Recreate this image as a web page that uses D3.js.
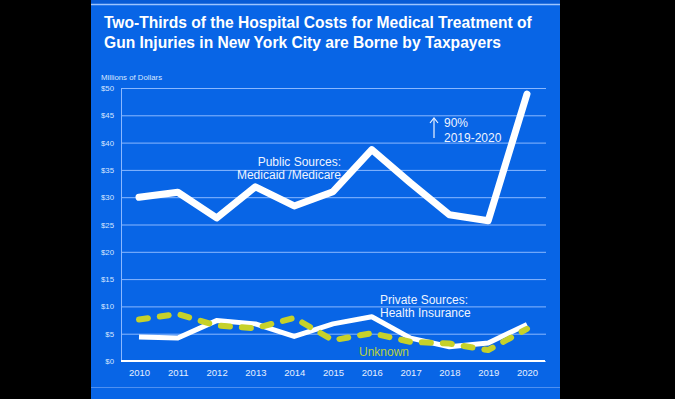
<!DOCTYPE html>
<html>
<head>
<meta charset="utf-8">
<script src="https://d3js.org/d3.v7.min.js"></script>
<style>
  body { margin:0; background:#000; }
  svg { display:block; font-family:"Liberation Sans", Arial, sans-serif; }
</style>
</head>
<body>
<script>
var years = [2010, 2011, 2012, 2013, 2014, 2015, 2016, 2017, 2018, 2019, 2020];
var publicVals  = [30, 30.9, 26.2, 31.9, 28.4, 31, 38.7, 32.6, 26.8, 25.7, 48.9];
var privateVals = [4.4, 4.2, 7.4, 6.8, 4.5, 6.8, 8.1, 4.2, 2.6, 3.3, 6.7];
var unknownVals = [7.6, 8.6, 6.5, 6.0, 7.9, 3.8, 5.1, 3.5, 3.2, 2.0, 5.9];
var yTicks = [0, 5, 10, 15, 20, 25, 30, 35, 40, 45, 50];

var W = 675, H = 399;
var svg = d3.select("body").append("svg")
    .attr("width", W)
    .attr("height", H);

svg.append("rect").attr("width", W).attr("height", H).attr("fill", "#000");

// slide background
svg.append("rect")
    .attr("x", 91).attr("y", 0)
    .attr("width", 469).attr("height", H)
    .attr("fill", "#0865e6");
svg.append("rect")
    .attr("x", 91).attr("y", 0)
    .attr("width", 469).attr("height", 4)
    .attr("fill", "#075bd6");
svg.append("line")
    .attr("x1", 91).attr("x2", 560).attr("y1", 4.5).attr("y2", 4.5)
    .attr("stroke", "#9cc4ff").attr("stroke-width", 1.5);
svg.append("line")
    .attr("x1", 91).attr("x2", 560).attr("y1", 387.5).attr("y2", 387.5)
    .attr("stroke", "#4f90f0").attr("stroke-width", 1);

// title
var title = svg.append("text")
    .attr("fill", "#fff")
    .attr("font-size", 15.6)
    .attr("font-weight", "bold");
title.append("tspan").attr("x", 104).attr("y", 28)
    .text("Two-Thirds of the Hospital Costs for Medical Treatment of");
title.append("tspan").attr("x", 104).attr("y", 48)
    .text("Gun Injuries in New York City are Borne by Taxpayers");

svg.append("text")
    .attr("x", 101).attr("y", 80)
    .attr("fill", "#dbe8ff")
    .attr("font-size", 7.8)
    .text("Millions of Dollars");

var x = d3.scaleLinear().domain([2010, 2020]).range([139, 527]);
var y = d3.scaleLinear().domain([0, 50]).range([361, 88]);

// y axis with gridlines
var yAxis = svg.append("g")
    .attr("transform", "translate(121,0)")
    .call(d3.axisLeft(y)
        .tickValues(yTicks)
        .tickSize(-425)
        .tickPadding(7)
        .tickFormat(function(d){ return "$" + d; }));
yAxis.select(".domain").attr("stroke", "#8ab8ff").attr("stroke-width", 1);
yAxis.selectAll(".tick line").attr("stroke", "#8ab8ff").attr("stroke-width", 1);
yAxis.selectAll(".tick text")
    .attr("fill", "#d6e5ff")
    .attr("font-size", 7.8)
    .attr("font-family", "Liberation Sans, Arial, sans-serif");

// baseline
svg.append("line")
    .attr("x1", 121).attr("x2", 545)
    .attr("y1", y(0)).attr("y2", y(0))
    .attr("stroke", "#fff").attr("stroke-width", 2);

// x axis labels
var xAxis = svg.append("g")
    .attr("transform", "translate(0," + y(0) + ")")
    .call(d3.axisBottom(x)
        .tickValues(years)
        .tickSize(0)
        .tickPadding(8)
        .tickFormat(d3.format("d")));
xAxis.select(".domain").remove();
xAxis.selectAll(".tick text")
    .attr("fill", "#e6efff")
    .attr("font-size", 9.5)
    .attr("font-family", "Liberation Sans, Arial, sans-serif");

var line = function(vals){
    return d3.line()
        .x(function(d, i){ return x(years[i]); })
        .y(function(d){ return y(d); })(vals);
};

svg.append("path")
    .attr("d", line(publicVals))
    .attr("fill", "none")
    .attr("stroke", "#fff")
    .attr("stroke-width", 7)
    .attr("stroke-linejoin", "round")
    .attr("stroke-linecap", "round");

svg.append("path")
    .attr("d", line(privateVals))
    .attr("fill", "none")
    .attr("stroke", "#fff")
    .attr("stroke-width", 5)
    .attr("stroke-linejoin", "round");

svg.append("path")
    .attr("d", line(unknownVals))
    .attr("fill", "none")
    .attr("stroke", "#c6d12a")
    .attr("stroke-width", 6)
    .attr("stroke-dasharray", "9,12")
    .attr("stroke-linecap", "round")
    .attr("stroke-linejoin", "round");

// annotations
var label = function(lines, xPos, yPos, gap, anchor, color, size){
    var t = svg.append("text")
        .attr("fill", color)
        .attr("font-size", size)
        .attr("text-anchor", anchor);
    lines.forEach(function(s, i){
        t.append("tspan").attr("x", xPos).attr("y", yPos + i * gap).text(s);
    });
};
label(["Public Sources:", "Medicaid /Medicare"], 341, 166, 12.8, "end", "#eef4ff", 12);
label(["Private Sources:", "Health Insurance"], 380, 304, 13.3, "start", "#eef4ff", 12);
label(["Unknown"], 359, 356, 0, "start", "#b9d13c", 12);
label(["90%", "2019-2020"], 444, 127, 15, "start", "#eef4ff", 12);

// up arrow
svg.append("line")
    .attr("x1", 434).attr("x2", 434).attr("y1", 119).attr("y2", 138)
    .attr("stroke", "#eef4ff").attr("stroke-width", 1.2);
svg.append("path")
    .attr("d", "M430,123 L434,118 L438,123")
    .attr("fill", "none")
    .attr("stroke", "#eef4ff").attr("stroke-width", 1.2);
</script>
</body>
</html>
